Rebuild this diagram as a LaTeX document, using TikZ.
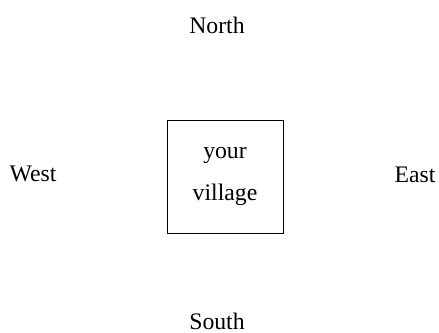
\documentclass[tikz,border=0pt]{standalone}
\usepackage{fontspec}
\setmainfont{Liberation Serif}
\usepackage{tikz}
\usetikzlibrary{positioning}

\begin{document}
\begin{tikzpicture}[
    compass/.style={font=\fontsize{13.5}{16}\selectfont, inner sep=1pt},
    villagebox/.style={draw, line width=0.5pt, minimum width=2.32cm, minimum height=2.26cm, align=center, font=\fontsize{13.5}{16}\selectfont}
]
            \useasboundingbox (0,0) rectangle (8.78,6.64);
            \node[villagebox] (village) at (4.5,3.11) {your\\[8pt]village};
            \node[compass] (north) at (4.34,6.14) {North};
            \node[compass] (south) at (4.34,0.22) {South};
            \node[compass] (west) at (0.66,3.16) {West};
            \node[compass] (east) at (8.30,3.14) {East};
        \end{tikzpicture}
\end{document}
